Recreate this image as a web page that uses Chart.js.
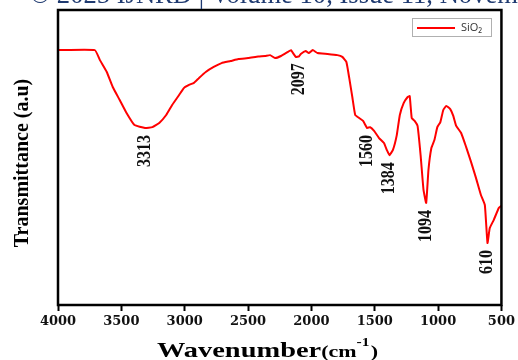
<!DOCTYPE html>
<html>
<head>
<meta charset="utf-8">
<script src="https://cdn.jsdelivr.net/npm/chart.js@4"></script>
<style>
html,body{margin:0;padding:0;background:#fff;}
#wrap{width:518px;height:360px;position:relative;}
</style>
</head>
<body>
<div id="wrap"><canvas id="c" width="518" height="360"></canvas></div>
<script>
// ---- data ----
const seriesName = "SiO₂";
const wavenumber = [4000,3709,3670,3615,3568,3513,3459,3396,3313,3255,3201,3146,3099,3044,3005,2966,2927,2888,2834,2771,2709,2638,2576,2498,2420,2365,2326,2287,2240,2185,2162,2123,2097,2084,2045,2021,1990,1951,1873,1795,1756,1724,1701,1677,1654,1623,1592,1560,1537,1505,1466,1427,1404,1384,1357,1326,1302,1271,1240,1224,1208,1185,1162,1138,1115,1094,1076,1053,1029,1006,982,959,935,904,880,857,818,779,740,701,662,631,610,592,561,521,502];
const transmittance = [86.4,86.4,83.1,79.0,73.9,69.5,65.1,61.0,60.0,60.3,61.7,64.4,67.8,71.2,73.6,74.6,75.3,76.9,79.0,80.7,82.0,82.7,83.4,83.7,84.2,84.4,84.7,83.7,84.4,85.8,86.4,84.1,84.3,85.1,86.1,85.4,86.4,85.4,85.1,84.7,84.1,82.4,76.9,70.5,64.4,63.4,62.4,60.0,60.3,59.0,56.6,54.9,52.5,50.8,52.5,57.6,64.4,68.5,70.5,70.8,63.4,62.4,60.7,50.8,39.0,34.6,45.8,53.2,55.9,60.3,62.0,66.1,67.5,66.4,64.1,60.7,58.3,53.6,48.5,43.1,37.3,33.9,21.0,26.1,28.8,32.9,33.6];
const peakLabels = [3313,2097,1560,1384,1094,610];
const xTicks = [4000,3500,3000,2500,2000,1500,1000,500];
const xTitle = "Wavenumber";
const yTitle = "Transmittance (a.u)";
const header = "© 2025 IJNRD | Volume 10, Issue 11, November 2025";

const points = wavenumber.map((w,i)=>({x:w,y:transmittance[i]}));

function interpT(w){
  for(let i=0;i<wavenumber.length-1;i++){
    const a=wavenumber[i], b=wavenumber[i+1];
    if((w<=a&&w>=b)){
      const t=(a-w)/(a-b);
      return transmittance[i]+(transmittance[i+1]-transmittance[i])*t;
    }
  }
  return transmittance[transmittance.length-1];
}

const SERIF = '"Liberation Serif","Times New Roman",serif';

const decor = {
  id:'decor',
  afterDraw(chart){
    const ctx=chart.ctx, a=chart.chartArea;
    const xs=chart.scales.x, ys=chart.scales.y;
    ctx.save();
    // frame
    ctx.strokeStyle='#000'; ctx.lineWidth=2.5;
    ctx.strokeRect(a.left,a.top,a.right-a.left,a.bottom-a.top);
    // peak labels
    ctx.save();
    ctx.fillStyle='#111';
    ctx.font='bold 16px '+SERIF;
    ctx.textAlign='right'; ctx.textBaseline='middle';
    peakLabels.forEach(p=>{
      const px=xs.getPixelForValue(p);
      const py=ys.getPixelForValue(interpT(p))+7;
      ctx.save();
      ctx.translate(px,py);
      ctx.scale(1.15,1);
      ctx.rotate(-Math.PI/2);
      ctx.fillText(String(p),0,0);
      ctx.restore();
    });
    ctx.restore();
    // y title
    ctx.save();
    ctx.font='bold 20px '+SERIF;
    ctx.textAlign='center'; ctx.textBaseline='middle';
    ctx.fillStyle='#000';
    ctx.translate(23,163);
    ctx.rotate(-Math.PI/2);
    ctx.fillText(yTitle,0,0);
    ctx.restore();
    // x title (composite, stretched to reference width)
    const parts=[
      {t:xTitle,f:'bold 22px '+SERIF,dy:0},
      {t:'(cm',f:'bold 17px '+SERIF,dy:0},
      {t:'-1',f:'bold 12px '+SERIF,dy:-11},
      {t:')',f:'bold 17px '+SERIF,dy:0}
    ];
    let tw=0;
    parts.forEach(p=>{ctx.font=p.f; p.w=ctx.measureText(p.t).width+(p.t==='-1'?1:0); tw+=p.w;});
    const sx=(378-157)/tw;
    ctx.save();
    ctx.fillStyle='#000';
    ctx.textAlign='left'; ctx.textBaseline='alphabetic';
    ctx.translate(157,357);
    ctx.scale(sx,1);
    let x=0;
    parts.forEach(p=>{ctx.font=p.f; ctx.fillText(p.t,x,p.dy); x+=p.w;});
    ctx.restore();
    // legend
    const ds=chart.data.datasets[0];
    ctx.save();
    ctx.fillStyle='#fff';
    ctx.fillRect(412,18,80,19);
    ctx.strokeStyle='#b0b0b0'; ctx.lineWidth=1;
    ctx.strokeRect(412.5,18.5,79,18);
    ctx.strokeStyle=ds.borderColor; ctx.lineWidth=2;
    ctx.beginPath(); ctx.moveTo(417,28); ctx.lineTo(455,28); ctx.stroke();
    ctx.fillStyle='#333';
    ctx.font='11px "Open Sans","Noto Sans",sans-serif';
    ctx.textAlign='left'; ctx.textBaseline='middle';
    ctx.fillText(ds.label,461,28);
    ctx.restore();
    // header
    ctx.save();
    ctx.fillStyle='#1f3a70';
    ctx.textAlign='left'; ctx.textBaseline='alphabetic';
    const pre="© 2025 IJNRD | Volume 10, Issue 11, Novem";
    ctx.font='20px '+SERIF;
    const w=ctx.measureText(pre).width;
    const fs=20*488/w;
    ctx.font=fs.toFixed(2)+'px '+SERIF;
    ctx.fillText(header,30,3);
    ctx.restore();
    ctx.restore();
  }
};

new Chart(document.getElementById('c'),{
  type:'line',
  data:{datasets:[{label:seriesName,data:points,borderColor:'#ff0000',borderWidth:2,pointRadius:0,tension:0.12,fill:false}]},
  options:{
    responsive:false,animation:false,
    layout:{padding:{top:10,right:11,left:0,bottom:0}},
    plugins:{legend:{display:false},tooltip:{enabled:false}},
    scales:{
      x:{type:'linear',reverse:true,min:500,max:4000,
        afterFit(s){s.height=55;},
        afterBuildTicks(s){s.ticks=xTicks.map(v=>({value:v}));},
        grid:{display:true,drawOnChartArea:false,drawTicks:true,tickLength:6,tickWidth:2,tickColor:'#000'},
        border:{display:false},
        ticks:{color:'#111',font:{family:'"DejaVu Serif",serif',size:13,weight:'bold'},padding:3,maxRotation:0,autoSkip:false,
          callback:(v)=>String(v)}
      },
      y:{min:0,max:100,
        afterFit(s){s.width=58;},
        grid:{display:false},border:{display:false},
        ticks:{display:false}
      }
    }
  },
  plugins:[decor]
});
</script>
</body>
</html>
